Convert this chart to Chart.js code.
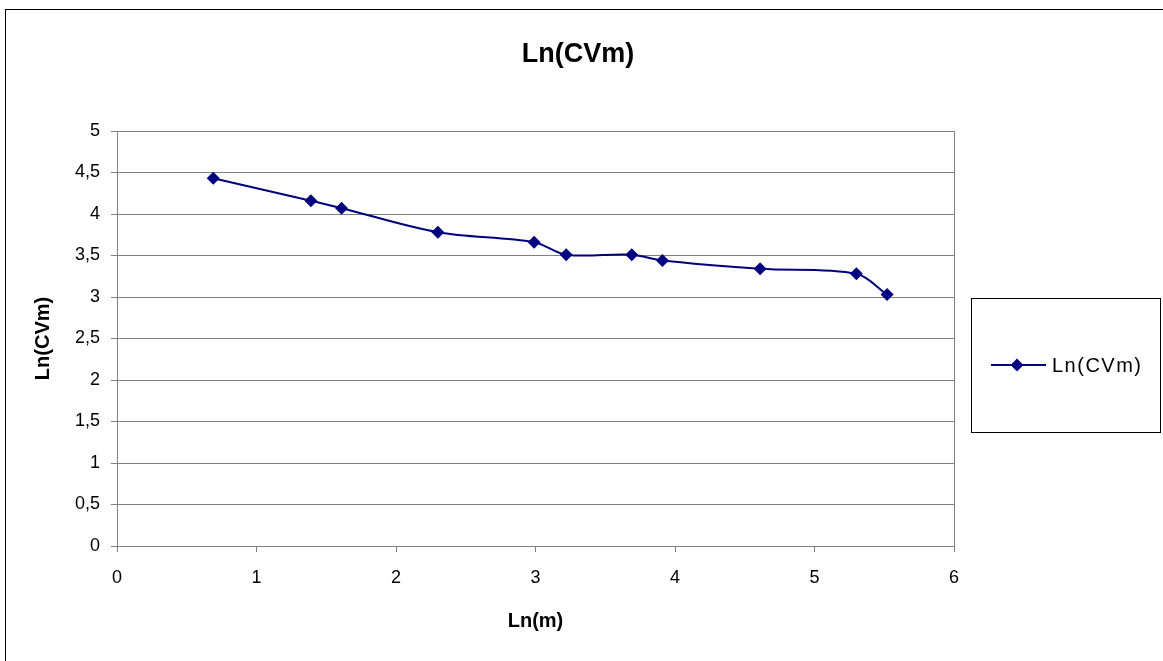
<!DOCTYPE html>
<html>
<head>
<meta charset="utf-8">
<script src="https://cdn.jsdelivr.net/npm/chart.js@4/dist/chart.umd.min.js"></script>
<style>
  html, body { margin: 0; padding: 0; background: #fff; }
  #wrap { width: 1163px; height: 661px; }
</style>
</head>
<body>
<div id="wrap"><canvas id="chart" width="1163" height="661"></canvas></div>
<script>
// values
const lnM = [0.69, 1.39, 1.61, 2.30, 2.99, 3.22, 3.69, 3.91, 4.61, 5.30, 5.52];
const lnCVm = [4.43, 4.16, 4.07, 3.78, 3.66, 3.51, 3.51, 3.44, 3.34, 3.28, 3.03];
const seriesName = 'Ln(CVm)';
const chartTitle = 'Ln(CVm)';
const xTitle = 'Ln(m)';
const yTitle = 'Ln(CVm)';

const FONT = '"Liberation Sans", Arial, sans-serif';
const NAVY = '#000080';
const GRID = '#808080';

const comma = v => String(v).replace('.', ',');

// title, outer frame, right edge of plot and legend box
const framePlugin = {
    id: 'frame',
    afterDraw(chart) {
        const ctx = chart.ctx;
        const area = chart.chartArea;
        ctx.save();

        ctx.strokeStyle = '#000';
        ctx.lineWidth = 1;
        ctx.strokeRect(5.5, 9.5, 1200, 700);

        ctx.strokeStyle = GRID;
        ctx.beginPath();
        ctx.moveTo(Math.round(area.right) + 0.5, area.top);
        ctx.lineTo(Math.round(area.right) + 0.5, area.bottom);
        ctx.stroke();

        ctx.fillStyle = '#000';
        ctx.font = 'bold 27px ' + FONT;
        ctx.textAlign = 'center';
        ctx.textBaseline = 'middle';
        ctx.fillText(chartTitle, 578, 55);

        // legend
        ctx.strokeStyle = '#000';
        ctx.strokeRect(971.5, 298.5, 189, 134);
        ctx.strokeStyle = NAVY;
        ctx.lineWidth = 2;
        ctx.beginPath();
        ctx.moveTo(991, 365);
        ctx.lineTo(1046, 365);
        ctx.stroke();
        ctx.fillStyle = NAVY;
        ctx.beginPath();
        ctx.moveTo(1017, 358.5);
        ctx.lineTo(1023.5, 365);
        ctx.lineTo(1017, 371.5);
        ctx.lineTo(1010.5, 365);
        ctx.closePath();
        ctx.fill();
        ctx.fillStyle = '#000';
        ctx.font = '20px ' + FONT;
        ctx.letterSpacing = '1.5px';
        ctx.textAlign = 'left';
        ctx.fillText(seriesName, 1052, 366);

        ctx.restore();
    }
};

new Chart(document.getElementById('chart'), {
    type: 'line',
    data: {
        datasets: [{
            label: seriesName,
            data: lnM.map((x, i) => ({ x: x, y: lnCVm[i] })),
            borderColor: NAVY,
            backgroundColor: NAVY,
            borderWidth: 2,
            pointStyle: 'rectRot',
            pointRadius: 6.5,
            pointBorderWidth: 0,
            tension: 0.33,
            fill: false
        }]
    },
    options: {
        responsive: false,
        animation: false,
        devicePixelRatio: 1,
        layout: { padding: { left: 0, top: 131, right: 209, bottom: 0 } },
        plugins: {
            legend: { display: false },
            title: { display: false },
            tooltip: { enabled: false }
        },
        scales: {
            x: {
                type: 'linear',
                min: 0,
                max: 6,
                ticks: {
                    stepSize: 1,
                    color: '#000',
                    font: { family: FONT, size: 18 },
                    padding: 15,
                    callback: v => comma(v)
                },
                grid: { drawOnChartArea: false, tickLength: 6, color: GRID },
                border: { color: GRID, width: 1 },
                title: {
                    display: true,
                    text: xTitle,
                    color: '#000',
                    font: { family: FONT, size: 20, weight: 'bold' },
                    padding: { top: 0, bottom: 28 }
                },
                afterFit: s => { s.height = 115; }
            },
            y: {
                min: 0,
                max: 5,
                ticks: {
                    stepSize: 0.5,
                    color: '#000',
                    font: { family: FONT, size: 18 },
                    padding: 11,
                    callback: v => comma(v)
                },
                grid: { tickLength: 6, color: GRID },
                border: { color: GRID, width: 1 },
                title: {
                    display: true,
                    text: yTitle,
                    color: '#000',
                    font: { family: FONT, size: 20, weight: 'bold' },
                    padding: { top: 31, bottom: 0 }
                },
                afterFit: s => { s.width = 117; }
            }
        }
    },
    plugins: [framePlugin]
});
</script>
</body>
</html>
